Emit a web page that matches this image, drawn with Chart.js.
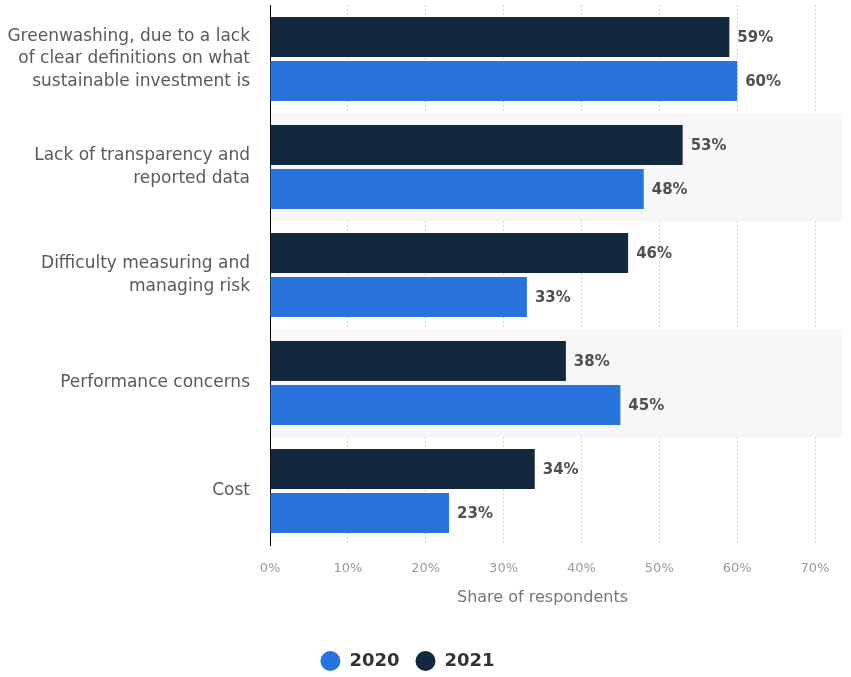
<!DOCTYPE html>
<html>
<head>
<meta charset="utf-8">
<script src="https://cdn.jsdelivr.net/npm/chart.js@4.4.1/dist/chart.umd.min.js"></script>
<style>
  html, body { margin: 0; padding: 0; background: #ffffff; }
  #wrap { width: 851px; height: 677px; position: relative; }
</style>
</head>
<body>
<div id="wrap"><canvas id="c" width="851" height="677"></canvas></div>
<script>
const categories = [
  ["Greenwashing, due to a lack", "of clear definitions on what", "sustainable investment is"],
  ["Lack of transparency and", "reported data"],
  ["Difficulty measuring and", "managing risk"],
  ["Performance concerns"],
  ["Cost"]
];
const values2021 = [59, 53, 46, 38, 34];
const values2020 = [60, 48, 33, 45, 23];
const seriesNames = ["2021", "2020"];
const xTickMax = 70;
const xTitle = "Share of respondents";

const FONT = "'DejaVu Sans', 'Liberation Sans', sans-serif";

const bandPlugin = {
  id: 'bands',
  beforeDatasetsDraw(chart) {
    const { ctx, chartArea, scales } = chart;
    const y = scales.y;
    const half = (y.getPixelForValue(1) - y.getPixelForValue(0)) / 2;
    ctx.save();
    ctx.fillStyle = '#f7f7f7';
    for (let i = 0; i < categories.length; i++) {
      if (i % 2 === 1) {
        const c = y.getPixelForValue(i);
        ctx.fillRect(chartArea.left + 1, c - half, chart.width - 10 - chartArea.left, half * 2);
      }
    }
    ctx.restore();
  }
};

const categoryLabelPlugin = {
  id: 'categoryLabels',
  afterDraw(chart) {
    const { ctx, chartArea, scales } = chart;
    const y = scales.y;
    const lh = 22.5;
    ctx.save();
    ctx.font = "17px " + FONT;
    ctx.fillStyle = '#5a5a5a';
    ctx.textAlign = 'right';
    ctx.textBaseline = 'middle';
    categories.forEach((lines, i) => {
      const c = y.getPixelForValue(i);
      const start = c - (lines.length - 1) * lh / 2;
      lines.forEach((t, k) => ctx.fillText(t, chartArea.left - 20, start + k * lh));
    });
    ctx.restore();
  }
};

const labelPlugin = {
  id: 'valueLabels',
  afterDatasetsDraw(chart) {
    const { ctx } = chart;
    ctx.save();
    ctx.font = "bold 15px " + FONT;
    ctx.fillStyle = '#505050';
    ctx.textAlign = 'left';
    ctx.textBaseline = 'middle';
    chart.data.datasets.forEach((ds, di) => {
      const meta = chart.getDatasetMeta(di);
      meta.data.forEach((bar, i) => {
        ctx.fillText(ds.data[i] + '%', bar.x + 8, bar.y + 1);
      });
    });
    ctx.restore();
  }
};

new Chart(document.getElementById('c'), {
  type: 'bar',
  data: {
    labels: categories.map(l => l.join(' ')),
    datasets: [
      { label: seriesNames[0], data: values2021, backgroundColor: '#13273f', borderWidth: 0 },
      { label: seriesNames[1], data: values2020, backgroundColor: '#2874dc', borderWidth: 0 }
    ]
  },
  options: {
    indexAxis: 'y',
    responsive: false,
    animation: false,
    devicePixelRatio: 1,
    layout: { padding: { top: 5, right: 36, left: 0, bottom: -3 } },
    datasets: { bar: { categoryPercentage: 0.815, barPercentage: 0.91 } },
    scales: {
      x: {
        min: 0,
        max: xTickMax,
        ticks: {
          stepSize: 10,
          color: '#999999',
          font: { family: FONT, size: 13 },
          padding: 16,
          callback: v => v + '%'
        },
        grid: { color: '#d2d2d2', drawTicks: false, lineWidth: 1 },
        border: { display: false, dash: [2, 2] },
        title: {
          display: true,
          text: xTitle,
          color: '#777777',
          font: { family: FONT, size: 16 },
          padding: { top: 10, bottom: 29 }
        },
        afterFit(scale) { scale.height = 91; }
      },
      y: {
        ticks: { display: false },
        grid: { display: false, drawTicks: false },
        border: { display: true, color: '#000000', width: 1 },
        afterFit(scale) { scale.width = 270; }
      }
    },
    plugins: {
      legend: {
        position: 'bottom',
        labels: {
          usePointStyle: true,
          pointStyle: 'circle',
          boxWidth: 20,
          boxHeight: 14,
          pointStyleWidth: 20,
          color: '#333333',
          font: { family: FONT, size: 18, weight: 'bold' },
          padding: 16,
          sort: (a, b) => b.datasetIndex - a.datasetIndex
        }
      },
      tooltip: { enabled: false }
    }
  },
  plugins: [bandPlugin, labelPlugin, categoryLabelPlugin]
});
</script>
</body>
</html>
